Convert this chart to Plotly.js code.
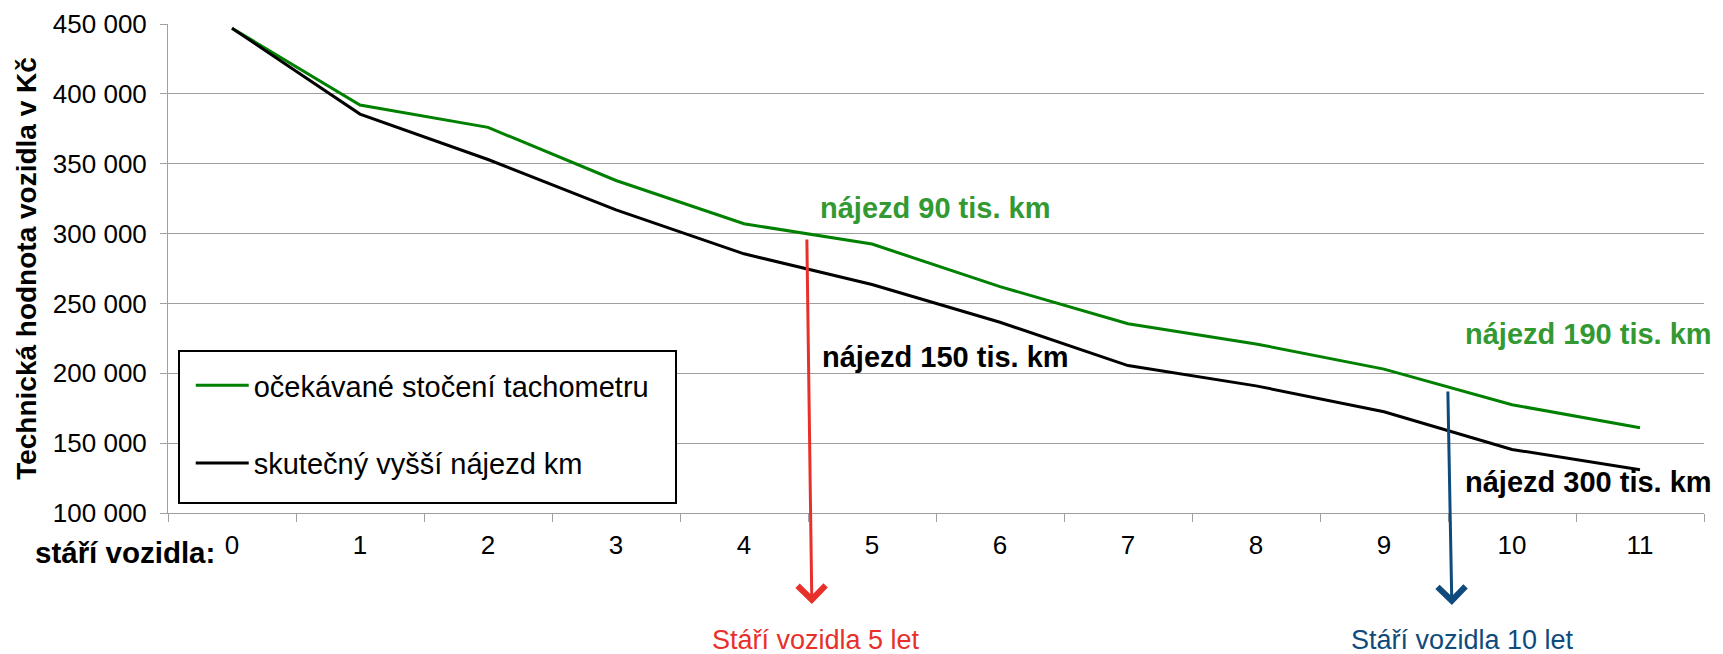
<!DOCTYPE html>
<html>
<head>
<meta charset="utf-8">
<script src="https://cdn.plot.ly/plotly-3.0.1.min.js"></script>
<style>
  html, body { margin: 0; padding: 0; background: #fff; }
  #chart { width: 1723px; height: 654px; }
</style>
</head>
<body>
<div id="chart"></div>
<script>
// ---- data ----
var ages = ['0', '1', '2', '3', '4', '5', '6', '7', '8', '9', '10', '11'];
var expectedRollback = [447000, 392000, 376000, 338000, 307000, 292500, 262000, 235500, 221000, 203000, 177500, 161000];
var actualHigherMileage = [447000, 385500, 353000, 317000, 285500, 263500, 236500, 205500, 191000, 172500, 145500, 131000];
var seriesNames = ['očekávané stočení tachometru', 'skutečný vyšší nájezd km'];
var yTickVals = [100000, 150000, 200000, 250000, 300000, 350000, 400000, 450000];

var FONT = '"Liberation Sans", Arial, sans-serif';
var GREEN = '#008000';
var GREEN_TXT = '#339933';
var RED = '#e8302a';
var BLUE = '#0f4a7c';
var GRID = '#a0a0a0';

var traces = [
  {
    x: ages, y: expectedRollback, name: seriesNames[0], type: 'scatter', mode: 'lines',
    line: { color: GREEN, width: 3 }, legendgroup: 'g1'
  },
  {
    x: ages, y: actualHigherMileage, name: seriesNames[1], type: 'scatter', mode: 'lines',
    line: { color: '#000000', width: 3 }, legendgroup: 'g2'
  }
];

var layout = {
  width: 1723, height: 654,
  margin: { l: 168, r: 19, t: 24, b: 141 },
  paper_bgcolor: '#ffffff', plot_bgcolor: '#ffffff',
  separators: ', ',
  font: { family: FONT, color: '#000000', size: 26 },
  showlegend: true,
  legend: {
    x: 0.0148, y: 0.3129, xanchor: 'left', yanchor: 'top',
    borderwidth: 0, bgcolor: 'rgba(0,0,0,0)',
    font: { family: FONT, size: 29, color: '#000000' },
    traceorder: 'grouped', tracegroupgap: 37,
    itemwidth: 53
  },
  shapes: [
    { type: 'rect', xref: 'paper', yref: 'paper', layer: 'above',
      x0: (179 - 168) / 1536, x1: (676 - 168) / 1536,
      y0: (513 - 503) / 489, y1: (513 - 351) / 489,
      fillcolor: '#ffffff', line: { color: '#000000', width: 2 } }
  ],
  xaxis: {
    type: 'category', categoryorder: 'array', categoryarray: ages,
    range: [-0.5, 11.5], autorange: false,
    showgrid: false, zeroline: false,
    showline: true, linecolor: GRID, linewidth: 1,
    ticks: 'outside', tickson: 'boundaries', ticklen: 8, tickcolor: GRID,
    tickfont: { family: FONT, size: 26, color: '#000000' },
    ticklabelstandoff: 9
  },
  yaxis: {
    range: [100000, 450000], autorange: false,
    tickvals: yTickVals, tickformat: ',d',
    showgrid: true, gridcolor: GRID, gridwidth: 1,
    zeroline: false, showline: true, linecolor: GRID, linewidth: 1,
    ticks: 'outside', ticklen: 7, tickcolor: GRID,
    tickfont: { family: FONT, size: 26, color: '#000000' },
    ticklabelstandoff: 8,
    automargin: false,
    title: { text: 'Technická hodnota vozidla v Kč', standoff: 8,
             font: { family: FONT, size: 28, color: '#000000', weight: 'bold' } }
  },
  annotations: [
    { xref: 'x', yref: 'y', x: 4.58, y: 318500, text: '<b>nájezd 90 tis. km</b>', showarrow: false,
      xanchor: 'left', yanchor: 'middle', font: { family: FONT, size: 29, color: GREEN_TXT } },
    { xref: 'x', yref: 'y', x: 4.59, y: 212000, text: '<b>nájezd 150 tis. km</b>', showarrow: false,
      xanchor: 'left', yanchor: 'middle', font: { family: FONT, size: 29, color: '#000000' } },
    { xref: 'x', yref: 'y', x: 9.62, y: 228000, text: '<b>nájezd 190 tis. km</b>', showarrow: false,
      xanchor: 'left', yanchor: 'middle', font: { family: FONT, size: 29, color: GREEN_TXT } },
    { xref: 'x', yref: 'y', x: 9.62, y: 122000, text: '<b>nájezd 300 tis. km</b>', showarrow: false,
      xanchor: 'left', yanchor: 'middle', font: { family: FONT, size: 29, color: '#000000' } },
    { xref: 'paper', yref: 'paper', x: 0.032, y: -0.08, text: '<b>stáří vozidla:</b>', showarrow: false,
      xanchor: 'right', yanchor: 'middle', font: { family: FONT, size: 29.5, color: '#000000' } },
    // arrows
    { xref: 'x', yref: 'paper', x: 4.53, y: -0.186, text: '', showarrow: true,
      axref: 'pixel', ayref: 'pixel', ax: -5, ay: -366,
      arrowhead: 4, arrowsize: 1.8, arrowwidth: 3, arrowcolor: RED, standoff: 0 },
    { xref: 'x', yref: 'paper', x: 9.53, y: -0.188, text: '', showarrow: true,
      axref: 'pixel', ayref: 'pixel', ax: -4, ay: -215,
      arrowhead: 4, arrowsize: 1.8, arrowwidth: 3, arrowcolor: BLUE, standoff: 0 },
    { xref: 'x', yref: 'paper', x: 4.56, y: -0.26, text: 'Stáří vozidla 5 let', showarrow: false,
      xanchor: 'center', yanchor: 'middle', font: { family: FONT, size: 27, color: RED } },
    { xref: 'x', yref: 'paper', x: 9.61, y: -0.26, text: 'Stáří vozidla 10 let', showarrow: false,
      xanchor: 'center', yanchor: 'middle', font: { family: FONT, size: 27, color: BLUE } }
  ]
};

Plotly.newPlot('chart', traces, layout, { displayModeBar: false, staticPlot: true });
</script>
</body>
</html>
